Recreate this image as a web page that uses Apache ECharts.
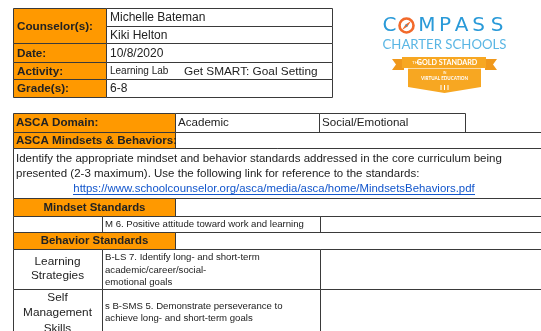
<!DOCTYPE html>
<html><head><meta charset="utf-8">
<script src="https://cdn.jsdelivr.net/npm/echarts@6/dist/echarts.min.js"></script>
<style>html,body{margin:0;padding:0;background:#fff}#c{width:541px;height:331px}</style>
</head><body><div id="c"></div>
<script>
// ---- content (data) ----
const headerLabels = ['Counselor(s):', 'Date:', 'Activity:', 'Grade(s):'];
const counselors = ['Michelle Bateman', 'Kiki Helton'];
const dateText = '10/8/2020';
const activityType = 'Learning Lab';
const activityTitle = 'Get SMART: Goal Setting';
const gradeText = '6-8';
const domainLabel = 'ASCA Domain:';
const domains = ['Academic', 'Social/Emotional'];
const mindsetsLabel = 'ASCA Mindsets & Behaviors:';
const instructionLines = [
  'Identify the appropriate mindset and behavior standards addressed in the core curriculum being',
  'presented (2-3 maximum). Use the following link for reference to the standards:'
];
const linkText = 'https://www.schoolcounselor.org/asca/media/asca/home/MindsetsBehaviors.pdf';
const mindsetHeader = 'Mindset Standards';
const mindsetItems = ['M 6. Positive attitude toward work and learning'];
const behaviorHeader = 'Behavior Standards';
const behaviorCategories = [['Learning', 'Strategies'], ['Self', 'Management', 'Skills']];
const behaviorItems = [
  ['B-LS 7. Identify long- and short-term', 'academic/career/social-', 'emotional goals'],
  ['s B-SMS 5. Demonstrate perseverance to', 'achieve long- and short-term goals']
];
const logoWord = ['C', 'O', 'M', 'P', 'A', 'S', 'S'];
const logoSub = 'CHARTER SCHOOLS';
const bannerTop = ['THE', 'GOLD STANDARD'];
const bannerSub = ['IN', 'VIRTUAL EDUCATION'];

// ---- styles / layout ----
const ORANGE = '#ff9900', LINE = '#3a3a3a', TXT = '#222';
const FONT = '"Liberation Sans", Arial, sans-serif';
const els = [];
function rect(x, y, w, h, fill, stroke) {
  els.push({type: 'rect', shape: {x: x + 0.5, y: y + 0.5, width: w, height: h},
    style: {fill: fill || '#fff', stroke: stroke === undefined ? LINE : stroke, lineWidth: 1}, silent: true});
}
function text(str, x, y, size, opt) {
  opt = opt || {};
  const fontStr = (opt.bold ? 'bold ' : '') + size + 'px ' + (opt.family || FONT);
  els.push({type: 'text', x: x, y: y, silent: true,
    style: {text: str, font: fontStr, fill: opt.color || TXT,
      textAlign: opt.align || 'left', align: opt.align || 'left',
      textVerticalAlign: 'middle', verticalAlign: 'middle'}});
}
function line(x1, y1, x2, y2, color, w) {
  els.push({type: 'line', shape: {x1: x1, y1: y1, x2: x2, y2: y2}, style: {stroke: color || LINE, lineWidth: w || 1}, silent: true});
}

// top table
const TX0 = 13, TX1 = 106, TX2 = 332;
const TR = [8, 26, 43, 62, 79, 97];
rect(TX0, TR[0], TX1 - TX0, TR[2] - TR[0], ORANGE);
for (let i = 2; i < 5; i++) rect(TX0, TR[i], TX1 - TX0, TR[i + 1] - TR[i], ORANGE);
for (let i = 0; i < 5; i++) rect(TX1, TR[i], TX2 - TX1, TR[i + 1] - TR[i], '#fff');
text(headerLabels[0], 17, (TR[0] + TR[2]) / 2 + 1, 11.7, {bold: true});
for (let i = 1; i < 4; i++) text(headerLabels[i], 17, (TR[i + 1] + TR[i + 2]) / 2 + 1, 11.7, {bold: true});
text(counselors[0], 110, (TR[0] + TR[1]) / 2 + 1, 12);
text(counselors[1], 110, (TR[1] + TR[2]) / 2 + 1, 12);
text(dateText, 110, (TR[2] + TR[3]) / 2 + 1, 12);
text(activityType, 110, (TR[3] + TR[4]) / 2 + 1, 10);
text(activityTitle, 184, (TR[3] + TR[4]) / 2 + 1, 11.8);
text(gradeText, 110, (TR[4] + TR[5]) / 2 + 1, 12);

// second section
const SX = [13, 175, 319, 465];
rect(SX[0], 113, SX[1] - SX[0], 19, ORANGE);
rect(SX[1], 113, SX[2] - SX[1], 19, '#fff');
rect(SX[2], 113, SX[3] - SX[2], 19, '#fff');
text(domainLabel, 16, 123, 11.6, {bold: true});
text(domains[0], 178, 123, 11.6);
text(domains[1], 322, 123, 11.6);
rect(SX[0], 132, SX[1] - SX[0], 16, ORANGE);
rect(SX[1], 132, 400, 16, '#fff');
text(mindsetsLabel, 16, 140.5, 11.6, {bold: true});
// instruction block
rect(SX[0], 148, 600, 50, '#fff');
text(instructionLines[0], 16, 158.5, 11.5);
text(instructionLines[1], 16, 173.5, 11.5);
text(linkText, 274, 188.5, 11.4, {align: 'center', color: '#1155cc'});
line(73, 194.5, 475, 194.5, '#1155cc', 1);
// mindset
rect(SX[0], 198, SX[1] - SX[0], 18, ORANGE);
rect(SX[1], 198, 400, 18, '#fff');
text(mindsetHeader, 94.5, 207.5, 11.4, {bold: true, align: 'center'});
const CX = [13, 102, 320];
rect(CX[0], 216, CX[1] - CX[0], 16, '#fff');
rect(CX[1], 216, CX[2] - CX[1], 16, '#fff');
rect(CX[2], 216, 300, 16, '#fff');
text(mindsetItems[0], 105, 224.5, 9.6);
// behavior
rect(SX[0], 232, SX[1] - SX[0], 17, ORANGE);
rect(SX[1], 232, 400, 17, '#fff');
text(behaviorHeader, 94.5, 241, 11.4, {bold: true, align: 'center'});
const BR = [[249, 40], [289, 60]];
for (let r = 0; r < 2; r++) {
  const y = BR[r][0], h = BR[r][1];
  rect(CX[0], y, CX[1] - CX[0], h, '#fff');
  rect(CX[1], y, CX[2] - CX[1], h, '#fff');
  rect(CX[2], y, 300, h, '#fff');
}
// behavior categories
const catY = [[262, 276], [297.5, 313, 328.5]];
behaviorCategories.forEach((lines, r) => lines.forEach((s, k) => text(s, 57.5, catY[r][k], 11.8, {align: 'center'})));
const itemY = [[257.5, 270, 282], [306, 318]];
behaviorItems.forEach((lines, r) => lines.forEach((s, k) => text(s, 105, itemY[r][k], 9.6)));

// ---- logo ----
const BLUE = '#2a9ad8', LBLUE = '#5ab6e4', LOGO_OR = '#f7a722';
const letterX = [389.5, 406.5, 427, 445, 461.5, 478.5, 497];
logoWord.forEach((ch, i) => {
  if (ch === 'O') return;
  text(ch, letterX[i], 26, 20, {align: 'center', color: BLUE, family: '"DejaVu Sans", sans-serif'});
});
els.push({type: 'circle', shape: {cx: 406.5, cy: 25.5, r: 7}, style: {fill: 'none', stroke: '#f26a2b', lineWidth: 2.6}, silent: true});
els.push({type: 'polygon', shape: {points: [[402, 30], [405.5, 24.5], [411, 21], [407.5, 26.5]]}, style: {fill: '#f26a2b'}, silent: true});
els.push({type: 'circle', shape: {cx: 406.5, cy: 25.5, r: 1}, style: {fill: BLUE}, silent: true});
text(logoSub, 444.5, 44.5, 13.2, {align: 'center', color: LBLUE, family: 'Lato, "Open Sans", sans-serif'});
// banner
els.push({type: 'polygon', shape: {points: [[392, 59], [404, 59], [404, 70], [392, 70], [396, 64.5]]}, style: {fill: '#f0981b'}, silent: true});
els.push({type: 'polygon', shape: {points: [[497, 59], [485, 59], [485, 70], [497, 70], [493, 64.5]]}, style: {fill: '#f0981b'}, silent: true});
els.push({type: 'rect', shape: {x: 402, y: 57, width: 84, height: 11}, style: {fill: LOGO_OR}, silent: true});
els.push({type: 'polygon', shape: {points: [[408, 68], [481, 68], [481, 87], [444.5, 93], [408, 87]]}, style: {fill: LOGO_OR}, silent: true});
line(408, 68.5, 481, 68.5, '#fff', 0.6);
text(bannerTop[0], 412, 62.8, 4.5, {color: '#fff', family: 'Lato, sans-serif'});
text(bannerTop[1], 447, 62.8, 7.2, {align: 'center', bold: true, color: '#fff', family: 'Lato, sans-serif'});
text(bannerSub[0], 444.5, 73, 3.5, {align: 'center', color: '#fff', family: 'Lato, sans-serif'});
text(bannerSub[1], 444.5, 79, 4.6, {align: 'center', bold: true, color: '#fff', family: 'Lato, sans-serif'});
[441, 444.5, 448].forEach(x => line(x, 85, x, 90, '#fff', 1));

const chart = echarts.init(document.getElementById('c'), null, {renderer: 'canvas'});
chart.setOption({animation: false, backgroundColor: '#fff', graphic: {elements: els}});
</script></body></html>
